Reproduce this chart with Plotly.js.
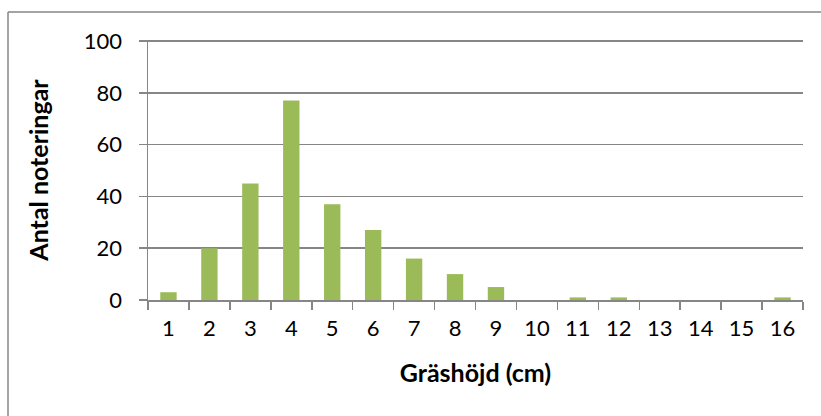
<!DOCTYPE html>
<html>
<head>
<meta charset="utf-8">
<script src="https://cdn.plot.ly/plotly-3.0.1.min.js"></script>
<style>html,body{margin:0;padding:0;background:#fff;}#chart{width:821px;height:416px;}</style>
</head>
<body>
<div id="chart"></div>
<script>
const categories = ["1","2","3","4","5","6","7","8","9","10","11","12","13","14","15","16"];
const counts = [3, 20, 45, 77, 37, 27, 16, 10, 5, 0, 1, 1, 0, 0, 0, 1];
const yTicks = [0, 20, 40, 60, 80, 100];
const xTitle = "Gräshöjd (cm)";
const yTitle = "Antal noteringar";

const L = 148, R = 18, T = 40, B = 116, W = 821, H = 416;
const pw = W - L - R, ph = H - T - B;
const px = v => (v - L) / pw;
const py = v => (H - B - v) / ph;

const fontFam = "Lato, 'Open Sans', 'Liberation Sans', sans-serif";
const gray = "#868686";

Plotly.newPlot("chart", [{
  type: "bar",
  x: categories,
  y: counts,
  marker: {color: "#9BBB59", line: {width: 0}},
  hoverinfo: "x+y"
}], {
  width: W, height: H,
  margin: {l: L, r: R, t: T, b: B, pad: 0},
  paper_bgcolor: "#fff", plot_bgcolor: "#fff",
  bargap: 0.6,
  showlegend: false,
  font: {family: fontFam, size: 22, color: "#000"},
  xaxis: {
    type: "category",
    tickson: "boundaries",
    ticks: "outside", ticklen: 8, tickwidth: 1.5, tickcolor: gray,
    showline: true, linecolor: gray, linewidth: 1.5,
    showgrid: false, zeroline: false,
    ticklabelstandoff: 8,
    tickfont: {family: fontFam, size: 22, color: "#000"},
    title: {text: xTitle, font: {family: fontFam, size: 25, color: "#000", weight: "bold"}, standoff: 24}
  },
  yaxis: {
    range: [0, 100.4],
    tickvals: yTicks,
    ticktext: yTicks.map(String),
    ticks: "outside", ticklen: 8, tickwidth: 1.5, tickcolor: gray,
    showline: true, linecolor: gray, linewidth: 1.5,
    showgrid: true, gridcolor: gray, gridwidth: 1.5,
    zeroline: false,
    ticklabelstandoff: 12,
    tickfont: {family: fontFam, size: 22, color: "#000"},
    title: {text: yTitle, font: {family: fontFam, size: 25, color: "#000", weight: "bold"}, standoff: 28}
  },
  shapes: [
    {type: "line", xref: "paper", yref: "paper", x0: px(8), x1: px(822), y0: py(12), y1: py(12), line: {color: gray, width: 1.5}},
    {type: "line", xref: "paper", yref: "paper", x0: px(8), x1: px(8), y0: py(12), y1: py(420), line: {color: gray, width: 1.5}}
  ]
}, {displayModeBar: false, staticPlot: true});
</script>
</body>
</html>
